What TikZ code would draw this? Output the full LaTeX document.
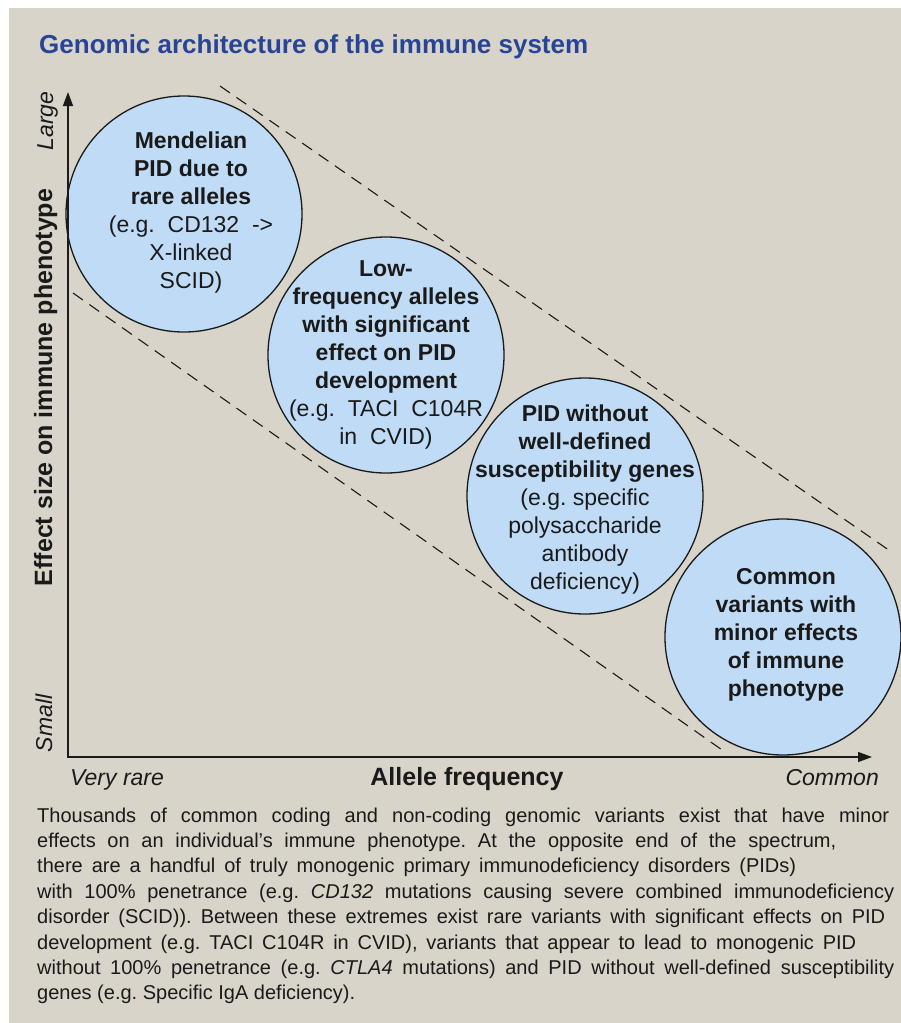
\documentclass[tikz,border=0pt]{standalone}
\usepackage{fontspec}
\setmainfont{Liberation Sans}
\usetikzlibrary{arrows.meta}
\definecolor{panelbg}{RGB}{216,212,202}
\definecolor{bubblefill}{RGB}{191,219,245}
\definecolor{titleblue}{RGB}{40,68,150}
\definecolor{ink}{RGB}{26,26,26}
\frenchspacing
\begin{document}
\begin{tikzpicture}[x=1pt,y=-1pt,
  bubble/.style={circle, draw=ink, line width=1.3pt, fill=bubblefill, minimum size=236pt, inner sep=0pt},
  bubbletext/.style={align=center, inner sep=0pt, text=ink, font=\fontsize{23}{28}\selectfont},
  axisline/.style={line width=1.4pt, draw=ink, line join=miter, {Triangle[length=14pt,width=10pt]}-{Triangle[length=14pt,width=10pt]}},
  guide/.style={line width=1.1pt, draw=ink, dash pattern=on 12pt off 8pt},
  axlab/.style={inner sep=0pt, text=ink, font=\itshape\fontsize{23}{28}\selectfont},
  axtitle/.style={inner sep=0pt, text=ink, font=\bfseries\fontsize{25}{28}\selectfont},
  captionline/.style={anchor=base west, inner sep=0pt, text=ink, font=\fontsize{20}{25}\selectfont}
]
\useasboundingbox (0,0) rectangle (901,1023);
\fill[white] (0,0) rectangle (901,1023);
\fill[panelbg] (9,8) rectangle (901,1023);

% title
\node[anchor=base west, inner sep=0pt, font=\bfseries\fontsize{26}{30}\selectfont, text=titleblue] (title) at (39,53) {Genomic architecture of the immune system};

% dashed guide lines
\coordinate (u1) at (220,86);
\coordinate (u2) at (893,553);
\coordinate (l1) at (73,293);
\coordinate (l2) at (725,752);
\draw[guide] (u1) -- (u2);
\draw[guide] (l1) -- (l2);

% bubbles
\node[bubble] (c1) at (184,214) {};
\node[bubble] (c2) at (386,355) {};
\node[bubble] (c3) at (585,496) {};
\node[bubble] (c4) at (783,637) {};

\node[bubbletext] (t1) at (191,213) {\textbf{Mendelian}\\\textbf{PID due to}\\\textbf{rare alleles}\\(e.g.\ \ CD132\ \ ->\\X-linked\\SCID)};
\node[bubbletext] (t2) at (386,355) {\textbf{Low-}\\\textbf{frequency alleles}\\\textbf{with significant}\\\textbf{effect on PID}\\\textbf{development}\\(e.g.\ \ TACI\ \ C104R\\in\ \ CVID)};
\node[bubbletext] (t3) at (585,500) {\textbf{PID without}\\\textbf{well-defined}\\\textbf{susceptibility genes}\\(e.g. specific\\polysaccharide\\antibody\\deficiency)};
\node[bubbletext] (t4) at (786,635) {\textbf{Common}\\\textbf{variants with}\\\textbf{minor effects}\\\textbf{of immune}\\\textbf{phenotype}};

% axes
\coordinate (ytip) at (68,92);
\coordinate (origin) at (68,757);
\coordinate (xtip) at (872,757);
\draw[axisline] (ytip) -- (origin) -- (xtip);

% axis labels
\node[axlab, anchor=base west] (vrare) at (70,785) {Very rare};
\node[axlab, anchor=base east] (common) at (879,785) {Common};
\node[axtitle, anchor=base] (afreq) at (467,785) {Allele frequency};
\node[axlab, rotate=90, anchor=base] (large) at (53,121) {Large};
\node[axlab, rotate=90, anchor=base] (small) at (52,723.5) {Small};
\node[axtitle, rotate=90, anchor=base] (effect) at (52,387.5) {Effect size on immune phenotype};

% caption
\node[captionline] (cap1) at (37,822) {\hbox to 852pt{Thousands of common coding and non-coding genomic variants exist that have minor}};
\node[captionline] (cap2) at (37,847.4) {\hbox to 799pt{effects on an individual’s immune phenotype. At the opposite end of the spectrum,}};
\node[captionline] (cap3) at (37,872.8) {\hbox to 759pt{there are a handful of truly monogenic primary immunodeficiency disorders (PIDs)}};
\node[captionline] (cap4) at (37,898.2) {\hbox to 857pt{with 100\% penetrance (e.g. \textit{CD132} mutations causing severe combined immunodeficiency}};
\node[captionline] (cap5) at (37,923.6) {\hbox to 848pt{disorder (SCID)). Between these extremes exist rare variants with significant effects on PID}};
\node[captionline] (cap6) at (37,949) {\hbox to 819pt{development (e.g. TACI C104R in CVID), variants that appear to lead to monogenic PID}};
\node[captionline] (cap7) at (37,974.4) {\hbox to 857pt{without 100\% penetrance (e.g. \textit{CTLA4} mutations) and PID without well-defined susceptibility}};
\node[captionline] (cap8) at (37,999.8) {genes (e.g. Specific IgA deficiency).};
\end{tikzpicture}
\end{document}
